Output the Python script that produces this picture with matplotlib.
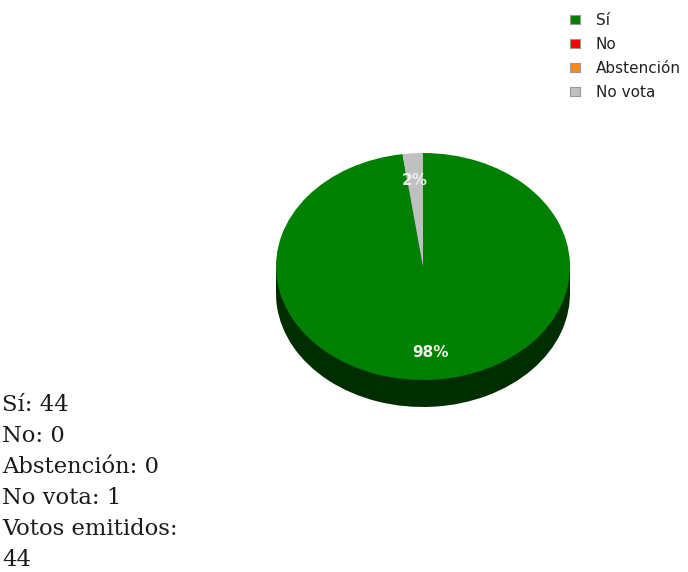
import matplotlib
matplotlib.use('Agg')
import matplotlib.pyplot as plt
from matplotlib.patches import Patch, Rectangle

categories = ['Sí', 'No', 'Abstención', 'No vota']
values = [44, 0, 0, 1]
colors = ['#008000', '#ff0000', '#ff8c00', '#c0c0c0']
side_colors = ['#002d00', '#800000', '#804600', '#606060']
emitted_label = 'Votos emitidos:'
emitted = 44

W, H = 688, 572
fig = plt.figure(figsize=(W / 100, H / 100), dpi=100)

# pie axes (elliptical 3D-like pie)
ax = fig.add_axes([276 / W, 1 - 407 / H, 294 / W, 254 / H])
d = 27 / 113.5
ax.pie(values, colors=side_colors, startangle=90, counterclock=False,
       center=(0, -d), radius=1, wedgeprops=dict(linewidth=0))
ax.add_patch(Rectangle((-1, -d), 2, d, facecolor=side_colors[0], lw=0))
ax.pie(values, colors=colors, startangle=90, counterclock=False, radius=1,
       autopct=lambda p: f'{p:.0f}%' if p > 0 else '', pctdistance=0.76,
       textprops=dict(color='#f0f0f0', fontsize=11, fontweight='bold',
                      family='DejaVu Sans'),
       wedgeprops=dict(linewidth=0))
ax.set_aspect('auto')
ax.set_xlim(-1, 1)
ax.set_ylim(-1 - d, 1)
ax.axis('off')

# legend
handles = [Patch(facecolor=c, edgecolor='#999999', linewidth=0.8) for c in colors]
fig.legend(handles=handles, labels=categories, loc='upper left',
           bbox_to_anchor=(570 / W, 1 - 13 / H), frameon=False,
           prop=dict(family='DejaVu Sans', size=11),
           handlelength=0.68, handleheight=0.56, handletextpad=1.0,
           labelspacing=0.58, borderaxespad=0, borderpad=0,
           labelcolor='#222222')

# summary text
lines = [f'{c}: {v}' for c, v in zip(categories, values)] + [emitted_label, str(emitted)]
for i, line in enumerate(lines):
    fig.text(2 / W, 1 - (411 + 31 * i) / H, line, fontsize=16.3,
             family='DejaVu Serif', va='baseline', ha='left', color='#1a1a1a')

fig.savefig('out.png', dpi=100)
